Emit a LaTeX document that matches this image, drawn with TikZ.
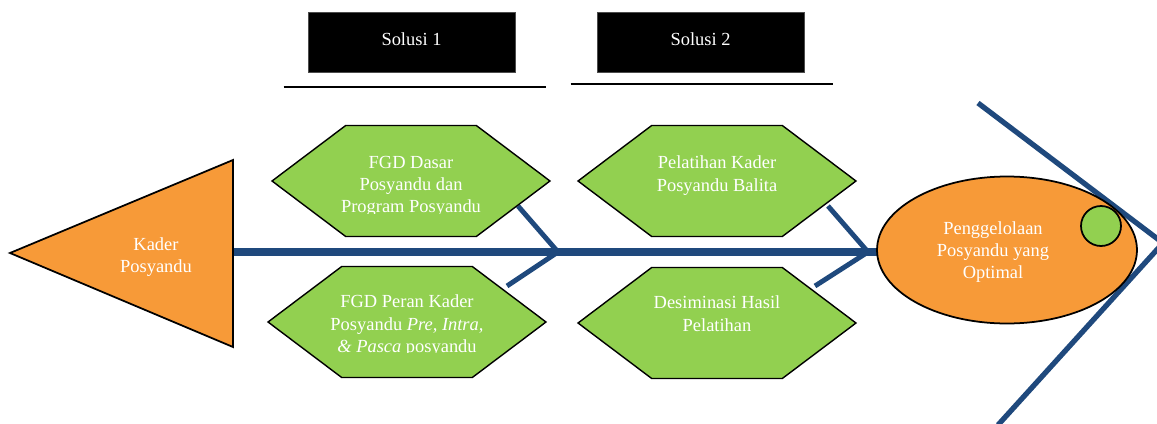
\documentclass[tikz,border=0pt]{standalone}
\usepackage{fontspec}
\setmainfont{Liberation Serif}
\usetikzlibrary{shapes.geometric,shapes.symbols}
\definecolor{spineblue}{HTML}{1F497D}
\definecolor{fishorange}{HTML}{F79A38}
\definecolor{leafgreen}{HTML}{92D050}

\begin{document}
\begin{tikzpicture}[x=0.02cm, y=-0.02cm,
  font=\fontsize{10.5}{12.6}\selectfont]
\tikzstyle{hexa}=[signal, signal to=east and west, signal pointer angle=74,
                  draw, line width=0.8pt, fill=leafgreen, minimum width=5.56cm,
                  minimum height=2.22cm, inner sep=0pt]
\tikzstyle{txt}=[text=white, align=center, inner sep=0pt]
\tikzstyle{spine}=[spineblue, line width=4pt]
\tikzstyle{bone}=[spineblue, line width=2.8pt]
\tikzstyle{solbox}=[fill=black, draw=black!70, thin, text=white, minimum width=4.14cm,
                    minimum height=1.2cm, inner sep=0pt]
\useasboundingbox (0,0) rectangle (1157,423);

% tail of the fish
\coordinate (tailtop) at (978,103);
\coordinate (tip) at (1163,243);
\coordinate (tailbot) at (998,425);
\draw[bone, line width=3pt] (tailtop) -- (tip) -- (tailbot);

% spine and bones
\coordinate (spinestart) at (233,252);
\coordinate (j1) at (558,252);
\coordinate (j2) at (868,252);
\coordinate (goalend) at (880,252);
\draw[spine] (spinestart) -- (goalend);
\coordinate (u1) at (518,206);
\coordinate (l1) at (507,286);
\coordinate (u2) at (828,206);
\coordinate (l2) at (815,286);
\foreach \i/\j in {u1/j1,l1/j1,u2/j2,l2/j2}{\draw[bone] (\i) -- (\j);}

% head
\filldraw[fill=fishorange, line width=1pt] (10,253) -- (233,160) -- (233,347) -- cycle;
\node[txt] (kader) at (156,257) {Kader\\Posyandu};

% solutions
\node[hexa] (h1) at (411,181) {};
\node[hexa] (h2) at (407,322) {};
\node[hexa] (h3) at (717,181) {};
\node[hexa] (h4) at (717,323) {};
\begin{scope}
\clip (260,140) rectangle (560,213);
\node[txt, anchor=north] (t1) at ([yshift=-0.62cm]h1.north) {FGD Dasar\\Posyandu dan\\Program Posyandu};
\end{scope}
\begin{scope}
\clip (260,280) rectangle (560,352);
\node[txt, anchor=north] (t2) at ([yshift=-0.58cm]h2.north) {FGD Peran Kader\\Posyandu \textit{Pre, Intra,}\\\textit{\& Pasca} posyandu};
\end{scope}
\node[txt, anchor=north] (t3) at ([yshift=-0.62cm]h3.north) {Pelatihan Kader\\Posyandu Balita};
\node[txt, anchor=north] (t4) at ([yshift=-0.58cm]h4.north) {Desiminasi Hasil\\Pelatihan};

% goal
\node[ellipse, draw, fill=fishorange, line width=1pt, minimum width=5.2cm,
      minimum height=2.94cm] (goal) at (1007,250) {};
\node[txt] (goaltxt) at (993,252) {Penggelolaan\\Posyandu yang\\Optimal};
\node[circle, draw, fill=leafgreen, line width=1pt, minimum size=0.8cm] (eye) at (1101,226) {};

% headers
\node[solbox] (s1) at (411.5,42) {\raisebox{0.12cm}{Solusi 1}};
\node[solbox] (s2) at (700.5,42) {\raisebox{0.12cm}{Solusi 2}};
\draw[line width=1.3pt] ([xshift=-0.48cm, yshift=-0.3cm]s1.south west) -- ([xshift=0.62cm, yshift=-0.3cm]s1.south east);
\draw[line width=1.3pt] ([xshift=-0.52cm, yshift=-0.24cm]s2.south west) -- ([xshift=0.58cm, yshift=-0.24cm]s2.south east);
\end{tikzpicture}
\end{document}
